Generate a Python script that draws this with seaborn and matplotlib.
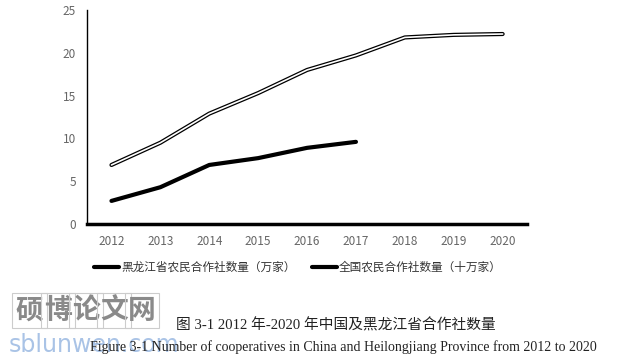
import matplotlib
matplotlib.use("Agg")
import matplotlib.pyplot as plt
import matplotlib.patheffects as pe
from matplotlib.lines import Line2D
import pandas as pd
import seaborn as sns

years = [2012, 2013, 2014, 2015, 2016, 2017, 2018, 2019, 2020]
hlj_years = [2012, 2013, 2014, 2015, 2016, 2017]
hlj_values = [2.7, 4.3, 6.9, 7.7, 8.9, 9.6]
national_values = [6.9, 9.5, 12.9, 15.3, 18.0, 19.7, 21.8, 22.1, 22.2]
hlj_label = "黑龙江省农民合作社数量（万家）"
national_label = "全国农民合作社数量（十万家）"

sns.set_theme(style="white")
plt.rcParams["font.family"] = ["Noto Sans CJK SC", "DejaVu Sans"]

fig = plt.figure(figsize=(6.32, 3.59), dpi=100)
ax = fig.add_axes([0.1377, 0.376, 0.6963, 0.596])

double = [pe.Stroke(linewidth=3.0, foreground="black"), pe.Normal()]

national = pd.DataFrame({"year": years, "value": national_values})
hlj = pd.DataFrame({"year": hlj_years, "value": hlj_values})

sns.lineplot(data=national, x="year", y="value", ax=ax, color="white",
             linewidth=1.2, path_effects=double)
sns.lineplot(data=hlj, x="year", y="value", ax=ax, color="black",
             linewidth=3.0, solid_capstyle="round")

ax.set_xlim(2011.5, 2020.5)
ax.set_ylim(0, 25)
ax.set_xticks(years)
ax.set_xticklabels([str(y) for y in years])
ax.set_yticks([0, 5, 10, 15, 20, 25])
ax.set_xlabel("")
ax.set_ylabel("")
for s in ["top", "right"]:
    ax.spines[s].set_visible(False)
ax.spines["left"].set_color("black")
ax.spines["left"].set_linewidth(1.0)
ax.spines["bottom"].set_color("black")
ax.spines["bottom"].set_linewidth(2.5)
ax.tick_params(axis="x", direction="out", length=3, width=0.8, colors="#666666",
               labelsize=8.5, pad=5)
ax.tick_params(axis="y", length=0, colors="#666666", labelsize=8.5, pad=8)
ax.grid(False)

handles = [
    Line2D([], [], color="black", linewidth=3.0),
    Line2D([], [], color="black", linewidth=3.0),
]
fig.legend(handles, [hlj_label, national_label], loc="center",
           bbox_to_anchor=(0.471, 0.256), ncol=2, frameon=False,
           fontsize=8.4, handlelength=2.2, handletextpad=0.15, columnspacing=1.4,
           labelcolor="#333333")

# watermark
for i, ch in enumerate("硕博论文网"):
    fig.text(0.047 + i * 0.0445, 0.135, ch, fontsize=20, color="#8a8a8a",
             fontweight="bold", ha="center", va="center",
             bbox=dict(boxstyle="square,pad=0.12", fc="none", ec="#cccccc", lw=0.8))
fig.text(0.014, 0.02, "sblunwen.com", fontsize=17, color="#a9c3e6", family="DejaVu Sans")

fig.text(0.532, 0.093, "图 3-1 2012 年-2020 年中国及黑龙江省合作社数量",
         ha="center", va="center", fontsize=10.6, color="#222222",
         family=["Liberation Serif", "Noto Sans CJK SC"])
fig.text(0.543, 0.032,
         "Figure 3-1 Number of cooperatives in China and Heilongjiang Province from 2012 to 2020",
         ha="center", va="center", fontsize=10, color="#222222", family="Liberation Serif")

fig.savefig("out.png", dpi=100)
